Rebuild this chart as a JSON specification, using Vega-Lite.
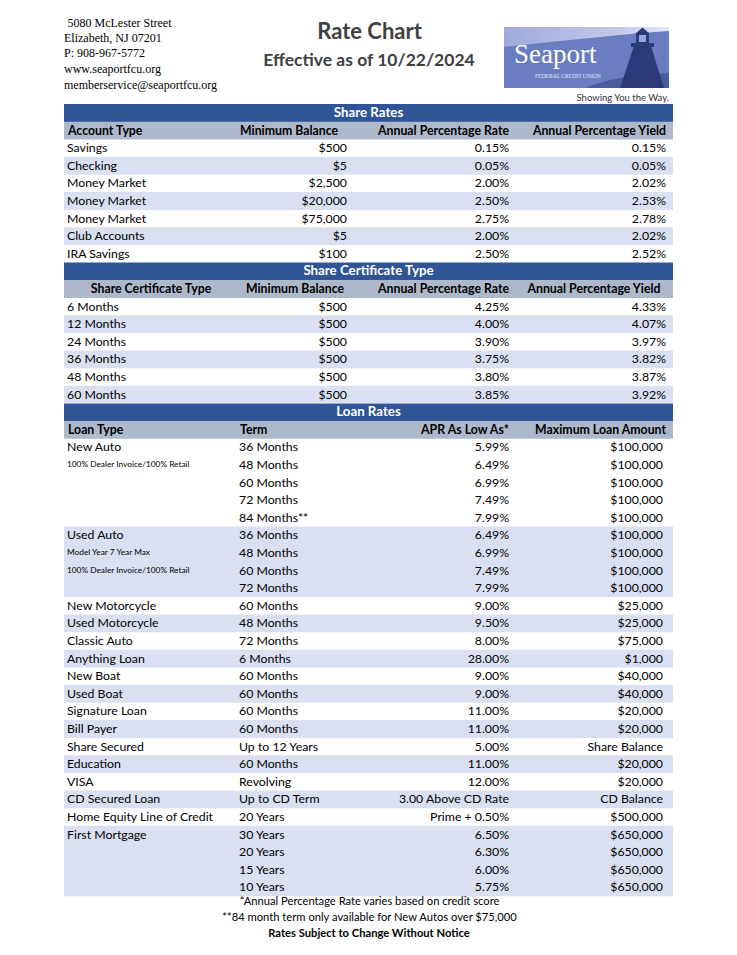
{
  "$schema": "https://vega.github.io/schema/vega-lite/v6.json",
  "width": 737,
  "height": 955,
  "padding": 0,
  "autosize": {"type": "fit", "contains": "padding"},
  "background": "white",
  "config": {"view": {"stroke": null}, "axis": {"disable": true}, "text": {"font": "Lato", "fontSize": 12.3, "baseline": "middle", "color": "#000000"}},
  "datasets": {
    "bands": [
      {"r": 0, "k": "section"}, {"r": 9, "k": "section"}, {"r": 17, "k": "section"},
      {"r": 1, "k": "columns"}, {"r": 10, "k": "columns"}, {"r": 18, "k": "columns"},
      {"r": 3, "k": "alt"}, {"r": 5, "k": "alt"}, {"r": 7, "k": "alt"},
      {"r": 12, "k": "alt"}, {"r": 14, "k": "alt"}, {"r": 16, "k": "alt"},
      {"r": 24, "k": "alt"}, {"r": 25, "k": "alt"}, {"r": 26, "k": "alt"}, {"r": 27, "k": "alt"},
      {"r": 29, "k": "alt"}, {"r": 31, "k": "alt"}, {"r": 33, "k": "alt"}, {"r": 35, "k": "alt"},
      {"r": 37, "k": "alt"}, {"r": 39, "k": "alt"},
      {"r": 41, "k": "alt"}, {"r": 42, "k": "alt"}, {"r": 43, "k": "alt"}, {"r": 44, "k": "alt"}
    ],
    "sections": [
      {"r": 0, "t": "Share Rates"},
      {"r": 9, "t": "Share Certificate Type"},
      {"r": 17, "t": "Loan Rates"}
    ],
    "headers": [
      {"r": 1, "a": "Account Type", "b": "Minimum Balance", "c": "Annual Percentage Rate", "d": "Annual Percentage Yield"},
      {"r": 10, "a": "Share Certificate Type", "b": "Minimum Balance", "c": "Annual Percentage Rate", "d": "Annual Percentage Yield"},
      {"r": 18, "a": "Loan Type", "b": "Term", "c": "APR As Low As*", "d": "Maximum Loan Amount"}
    ],
    "body": [
      {"r": 2, "a": "Savings", "b": "$500", "c": "0.15%", "d": "0.15%"},
      {"r": 3, "a": "Checking", "b": "$5", "c": "0.05%", "d": "0.05%"},
      {"r": 4, "a": "Money Market", "b": "$2,500", "c": "2.00%", "d": "2.02%"},
      {"r": 5, "a": "Money Market", "b": "$20,000", "c": "2.50%", "d": "2.53%"},
      {"r": 6, "a": "Money Market", "b": "$75,000", "c": "2.75%", "d": "2.78%"},
      {"r": 7, "a": "Club Accounts", "b": "$5", "c": "2.00%", "d": "2.02%"},
      {"r": 8, "a": "IRA Savings", "b": "$100", "c": "2.50%", "d": "2.52%"},
      {"r": 11, "a": "6 Months", "b": "$500", "c": "4.25%", "d": "4.33%"},
      {"r": 12, "a": "12 Months", "b": "$500", "c": "4.00%", "d": "4.07%"},
      {"r": 13, "a": "24 Months", "b": "$500", "c": "3.90%", "d": "3.97%"},
      {"r": 14, "a": "36 Months", "b": "$500", "c": "3.75%", "d": "3.82%"},
      {"r": 15, "a": "48 Months", "b": "$500", "c": "3.80%", "d": "3.87%"},
      {"r": 16, "a": "60 Months", "b": "$500", "c": "3.85%", "d": "3.92%"},
      {"r": 19, "a": "New Auto", "b": "36 Months", "c": "5.99%", "d": "$100,000"},
      {"r": 20, "n": "100% Dealer Invoice/100% Retail", "b": "48 Months", "c": "6.49%", "d": "$100,000"},
      {"r": 21, "b": "60 Months", "c": "6.99%", "d": "$100,000"},
      {"r": 22, "b": "72 Months", "c": "7.49%", "d": "$100,000"},
      {"r": 23, "b": "84 Months**", "c": "7.99%", "d": "$100,000"},
      {"r": 24, "a": "Used Auto", "b": "36 Months", "c": "6.49%", "d": "$100,000"},
      {"r": 25, "n": "Model Year 7 Year Max", "b": "48 Months", "c": "6.99%", "d": "$100,000"},
      {"r": 26, "n": "100% Dealer Invoice/100% Retail", "b": "60 Months", "c": "7.49%", "d": "$100,000"},
      {"r": 27, "b": "72 Months", "c": "7.99%", "d": "$100,000"},
      {"r": 28, "a": "New Motorcycle", "b": "60 Months", "c": "9.00%", "d": "$25,000"},
      {"r": 29, "a": "Used Motorcycle", "b": "48 Months", "c": "9.50%", "d": "$25,000"},
      {"r": 30, "a": "Classic Auto", "b": "72 Months", "c": "8.00%", "d": "$75,000"},
      {"r": 31, "a": "Anything Loan", "b": "6 Months", "c": "28.00%", "d": "$1,000"},
      {"r": 32, "a": "New Boat", "b": "60 Months", "c": "9.00%", "d": "$40,000"},
      {"r": 33, "a": "Used Boat", "b": "60 Months", "c": "9.00%", "d": "$40,000"},
      {"r": 34, "a": "Signature Loan", "b": "60 Months", "c": "11.00%", "d": "$20,000"},
      {"r": 35, "a": "Bill Payer", "b": "60 Months", "c": "11.00%", "d": "$20,000"},
      {"r": 36, "a": "Share Secured", "b": "Up to 12 Years", "c": "5.00%", "d": "Share Balance"},
      {"r": 37, "a": "Education", "b": "60 Months", "c": "11.00%", "d": "$20,000"},
      {"r": 38, "a": "VISA", "b": "Revolving", "c": "12.00%", "d": "$20,000"},
      {"r": 39, "a": "CD Secured Loan", "b": "Up to CD Term", "c": "3.00 Above CD Rate", "d": "CD Balance"},
      {"r": 40, "a": "Home Equity Line of Credit", "b": "20 Years", "c": "Prime + 0.50%", "d": "$500,000"},
      {"r": 41, "a": "First Mortgage", "b": "30 Years", "c": "6.50%", "d": "$650,000"},
      {"r": 42, "b": "20 Years", "c": "6.30%", "d": "$650,000"},
      {"r": 43, "b": "15 Years", "c": "6.00%", "d": "$650,000"},
      {"r": 44, "b": "10 Years", "c": "5.75%", "d": "$650,000"}
    ],
    "address": [
      {"r": -4.858, "t": "5080 McLester Street"},
      {"r": -4.006, "t": "Elizabeth, NJ 07201"},
      {"r": -3.182, "t": "P: 908-967-5772"},
      {"r": -2.273, "t": "www.seaportfcu.org"},
      {"r": -1.364, "t": "memberservice@seaportfcu.org"}
    ],
    "titles": [
      {"r": -4.205, "t": "Rate Chart", "s": "title"},
      {"r": -2.67, "t": "Effective as of 10/22/2024", "s": "subtitle"}
    ],
    "notes": [
      {"r": 44.82, "t": "*Annual Percentage Rate varies based on credit score", "s": "note"},
      {"r": 45.74, "t": "**84 month term only available for New Autos over $75,000", "s": "note"},
      {"r": 46.66, "t": "Rates Subject to Change Without Notice", "s": "strong"}
    ],
    "logoRects": [
      {"part": "box", "x": 504, "x2": 669, "r": -4.886, "r2": -1.42},
      {"part": "gallery", "x": 631, "x2": 654, "r": -3.977, "r2": -3.75},
      {"part": "lantern", "x": 636, "x2": 649, "r": -4.489, "r2": -3.977},
      {"part": "window", "x": 639, "x2": 646, "r": -4.432, "r2": -4.034}
    ],
    "logoAreas": [
      {"part": "sky", "x": 504, "r": -4.886, "r2": -3.75},
      {"part": "sky", "x": 550, "r": -4.886, "r2": -4.034},
      {"part": "sky", "x": 600, "r": -4.886, "r2": -4.318},
      {"part": "sky", "x": 640, "r": -4.886, "r2": -4.545},
      {"part": "sky", "x": 669, "r": -4.886, "r2": -4.659},
      {"part": "rock", "x": 585, "r": -1.42, "r2": -1.42},
      {"part": "rock", "x": 610, "r": -1.875, "r2": -1.42},
      {"part": "rock", "x": 635, "r": -2.102, "r2": -1.42},
      {"part": "rock", "x": 669, "r": -2.273, "r2": -1.42},
      {"part": "tower", "x": 620, "r": -1.42, "r2": -1.42},
      {"part": "tower", "x": 634, "r": -3.807, "r2": -1.42},
      {"part": "tower", "x": 651, "r": -3.807, "r2": -1.42},
      {"part": "tower", "x": 664, "r": -1.42, "r2": -1.42},
      {"part": "dome", "x": 635, "r": -4.489, "r2": -4.489},
      {"part": "dome", "x": 642.5, "r": -4.858, "r2": -4.489},
      {"part": "dome", "x": 650, "r": -4.489, "r2": -4.489}
    ],
    "logoText": [
      {"r": -2.824, "t": "Seaport", "s": "name"},
      {"r": -1.972, "t": "FEDERAL CREDIT UNION", "s": "sub"},
      {"r": -0.71, "t": "Showing You the Way.", "s": "tag"}
    ]
  },
  "layer": [
    {
      "data": {"name": "bands"},
      "mark": {"type": "rule", "strokeWidth": 17.8, "strokeCap": "butt"},
      "encoding": {
        "x": {"datum": 64, "type": "quantitative", "scale": {"domain": [0, 737], "nice": false, "zero": false}, "axis": null},
        "x2": {"datum": 673},
        "y": {"field": "r", "type": "quantitative", "scale": {"domain": [-6.42045, 47.84091], "reverse": true, "nice": false, "zero": false}, "axis": null},
        "color": {"field": "k", "type": "nominal", "scale": {"domain": ["section", "columns", "alt"], "range": ["#2F5597", "#ADB9CA", "#DAE0F2"]}, "legend": null}
      }
    },
    {
      "data": {"name": "logoRects"},
      "transform": [{"filter": "datum.part == 'box'"}],
      "mark": {"type": "rect", "color": "#6b7dc1"},
      "encoding": {
        "x": {"field": "x", "type": "quantitative", "scale": {"domain": [0, 737], "nice": false, "zero": false}},
        "x2": {"field": "x2"},
        "y": {"field": "r", "type": "quantitative", "scale": {"domain": [-6.42045, 47.84091], "reverse": true, "nice": false, "zero": false}},
        "y2": {"field": "r2"}
      }
    },
    {
      "data": {"name": "logoAreas"},
      "transform": [{"filter": "datum.part == 'sky'"}],
      "mark": {"type": "area", "interpolate": "monotone", "color": {"gradient": "linear", "x1": 0, "y1": 0, "x2": 1, "y2": 0, "stops": [{"offset": 0, "color": "#9ea9da"}, {"offset": 0.7, "color": "#c3caeb"}, {"offset": 1, "color": "#e4e7f6"}]}},
      "encoding": {
        "x": {"field": "x", "type": "quantitative"},
        "y": {"field": "r", "type": "quantitative"},
        "y2": {"field": "r2"}
      }
    },
    {
      "data": {"name": "logoAreas"},
      "transform": [{"filter": "datum.part == 'rock'"}],
      "mark": {"type": "area", "interpolate": "monotone", "color": "#4a5ca0"},
      "encoding": {
        "x": {"field": "x", "type": "quantitative"},
        "y": {"field": "r", "type": "quantitative"},
        "y2": {"field": "r2"}
      }
    },
    {
      "data": {"name": "logoAreas"},
      "transform": [{"filter": "datum.part == 'tower'"}],
      "mark": {"type": "area", "interpolate": "linear", "color": "#2b3b7a"},
      "encoding": {
        "x": {"field": "x", "type": "quantitative"},
        "y": {"field": "r", "type": "quantitative"},
        "y2": {"field": "r2"}
      }
    },
    {
      "data": {"name": "logoAreas"},
      "transform": [{"filter": "datum.part == 'dome'"}],
      "mark": {"type": "area", "interpolate": "linear", "color": "#2b3b7a"},
      "encoding": {
        "x": {"field": "x", "type": "quantitative"},
        "y": {"field": "r", "type": "quantitative"},
        "y2": {"field": "r2"}
      }
    },
    {
      "data": {"name": "logoRects"},
      "transform": [{"filter": "datum.part == 'gallery' || datum.part == 'lantern'"}],
      "mark": {"type": "rect", "color": "#2b3b7a"},
      "encoding": {
        "x": {"field": "x", "type": "quantitative"},
        "x2": {"field": "x2"},
        "y": {"field": "r", "type": "quantitative"},
        "y2": {"field": "r2"}
      }
    },
    {
      "data": {"name": "logoRects"},
      "transform": [{"filter": "datum.part == 'window'"}],
      "mark": {"type": "rect", "color": "#9aa5d8"},
      "encoding": {
        "x": {"field": "x", "type": "quantitative"},
        "x2": {"field": "x2"},
        "y": {"field": "r", "type": "quantitative"},
        "y2": {"field": "r2"}
      }
    },
    {
      "data": {"name": "logoText"},
      "transform": [{"filter": "datum.s == 'name'"}],
      "mark": {"type": "text", "font": "Liberation Serif", "fontSize": 27, "align": "left", "baseline": "alphabetic", "color": "white"},
      "encoding": {"x": {"datum": 514, "type": "quantitative"}, "y": {"field": "r", "type": "quantitative"}, "text": {"field": "t"}}
    },
    {
      "data": {"name": "logoText"},
      "transform": [{"filter": "datum.s == 'sub'"}],
      "mark": {"type": "text", "font": "Liberation Serif", "fontSize": 5.6, "align": "left", "baseline": "alphabetic", "color": "#e3e7f7"},
      "encoding": {"x": {"datum": 535, "type": "quantitative"}, "y": {"field": "r", "type": "quantitative"}, "text": {"field": "t"}}
    },
    {
      "data": {"name": "logoText"},
      "transform": [{"filter": "datum.s == 'tag'"}],
      "mark": {"type": "text", "font": "Lato", "fontSize": 9.5, "align": "right", "baseline": "alphabetic", "color": "#333333"},
      "encoding": {"x": {"datum": 669, "type": "quantitative"}, "y": {"field": "r", "type": "quantitative"}, "text": {"field": "t"}}
    },
    {
      "data": {"name": "address"},
      "transform": [{"filter": "datum.r < -4.5"}],
      "mark": {"type": "text", "font": "Liberation Serif", "fontSize": 12, "align": "left", "baseline": "alphabetic"},
      "encoding": {"x": {"datum": 67.5, "type": "quantitative"}, "y": {"field": "r", "type": "quantitative"}, "text": {"field": "t"}}
    },
    {
      "data": {"name": "address"},
      "transform": [{"filter": "datum.r > -4.5"}],
      "mark": {"type": "text", "font": "Liberation Serif", "fontSize": 12, "align": "left", "baseline": "alphabetic"},
      "encoding": {"x": {"datum": 64, "type": "quantitative"}, "y": {"field": "r", "type": "quantitative"}, "text": {"field": "t"}}
    },
    {
      "data": {"name": "titles"},
      "transform": [{"filter": "datum.s == 'title'"}],
      "mark": {"type": "text", "fontSize": 22, "fontWeight": "bold", "align": "center", "baseline": "alphabetic", "color": "#404040"},
      "encoding": {"x": {"datum": 369.5, "type": "quantitative"}, "y": {"field": "r", "type": "quantitative"}, "text": {"field": "t"}}
    },
    {
      "data": {"name": "titles"},
      "transform": [{"filter": "datum.s == 'subtitle'"}],
      "mark": {"type": "text", "fontSize": 17.5, "fontWeight": "bold", "align": "center", "baseline": "alphabetic", "color": "#404040"},
      "encoding": {"x": {"datum": 369, "type": "quantitative"}, "y": {"field": "r", "type": "quantitative"}, "text": {"field": "t"}}
    },
    {
      "data": {"name": "sections"},
      "mark": {"type": "text", "fontSize": 13.3, "fontWeight": "bold", "align": "center", "color": "white"},
      "encoding": {"x": {"datum": 368.5, "type": "quantitative"}, "y": {"field": "r", "type": "quantitative"}, "text": {"field": "t"}}
    },
    {
      "data": {"name": "headers"},
      "transform": [{"filter": "datum.r != 10"}],
      "mark": {"type": "text", "fontWeight": "bold", "align": "left"},
      "encoding": {"x": {"datum": 68, "type": "quantitative"}, "y": {"field": "r", "type": "quantitative"}, "text": {"field": "a"}}
    },
    {
      "data": {"name": "headers"},
      "transform": [{"filter": "datum.r != 10"}],
      "mark": {"type": "text", "fontWeight": "bold", "align": "left"},
      "encoding": {"x": {"datum": 240, "type": "quantitative"}, "y": {"field": "r", "type": "quantitative"}, "text": {"field": "b"}}
    },
    {
      "data": {"name": "headers"},
      "mark": {"type": "text", "fontWeight": "bold", "align": "right"},
      "encoding": {"x": {"datum": 509, "type": "quantitative"}, "y": {"field": "r", "type": "quantitative"}, "text": {"field": "c"}}
    },
    {
      "data": {"name": "headers"},
      "transform": [{"filter": "datum.r != 10"}],
      "mark": {"type": "text", "fontWeight": "bold", "align": "right"},
      "encoding": {"x": {"datum": 666, "type": "quantitative"}, "y": {"field": "r", "type": "quantitative"}, "text": {"field": "d"}}
    },
    {
      "data": {"name": "headers"},
      "transform": [{"filter": "datum.r == 10"}],
      "mark": {"type": "text", "fontWeight": "bold", "align": "center"},
      "encoding": {"x": {"datum": 151, "type": "quantitative"}, "y": {"field": "r", "type": "quantitative"}, "text": {"field": "a"}}
    },
    {
      "data": {"name": "headers"},
      "transform": [{"filter": "datum.r == 10"}],
      "mark": {"type": "text", "fontWeight": "bold", "align": "center"},
      "encoding": {"x": {"datum": 295, "type": "quantitative"}, "y": {"field": "r", "type": "quantitative"}, "text": {"field": "b"}}
    },
    {
      "data": {"name": "headers"},
      "transform": [{"filter": "datum.r == 10"}],
      "mark": {"type": "text", "fontWeight": "bold", "align": "center"},
      "encoding": {"x": {"datum": 594, "type": "quantitative"}, "y": {"field": "r", "type": "quantitative"}, "text": {"field": "d"}}
    },
    {
      "data": {"name": "body"},
      "transform": [{"filter": "datum.a"}],
      "mark": {"type": "text", "align": "left"},
      "encoding": {"x": {"datum": 67, "type": "quantitative"}, "y": {"field": "r", "type": "quantitative"}, "text": {"field": "a"}}
    },
    {
      "data": {"name": "body"},
      "transform": [{"filter": "datum.n"}],
      "mark": {"type": "text", "align": "left", "fontSize": 8.3},
      "encoding": {"x": {"datum": 67, "type": "quantitative"}, "y": {"field": "r", "type": "quantitative"}, "text": {"field": "n"}}
    },
    {
      "data": {"name": "body"},
      "transform": [{"filter": "datum.r < 17"}],
      "mark": {"type": "text", "align": "right"},
      "encoding": {"x": {"datum": 347, "type": "quantitative"}, "y": {"field": "r", "type": "quantitative"}, "text": {"field": "b"}}
    },
    {
      "data": {"name": "body"},
      "transform": [{"filter": "datum.r > 17"}],
      "mark": {"type": "text", "align": "left"},
      "encoding": {"x": {"datum": 239, "type": "quantitative"}, "y": {"field": "r", "type": "quantitative"}, "text": {"field": "b"}}
    },
    {
      "data": {"name": "body"},
      "mark": {"type": "text", "align": "right"},
      "encoding": {"x": {"datum": 509, "type": "quantitative"}, "y": {"field": "r", "type": "quantitative"}, "text": {"field": "c"}}
    },
    {
      "data": {"name": "body"},
      "transform": [{"filter": "datum.r < 17"}],
      "mark": {"type": "text", "align": "right"},
      "encoding": {"x": {"datum": 666, "type": "quantitative"}, "y": {"field": "r", "type": "quantitative"}, "text": {"field": "d"}}
    },
    {
      "data": {"name": "body"},
      "transform": [{"filter": "datum.r > 17"}],
      "mark": {"type": "text", "align": "right"},
      "encoding": {"x": {"datum": 663, "type": "quantitative"}, "y": {"field": "r", "type": "quantitative"}, "text": {"field": "d"}}
    },
    {
      "data": {"name": "notes"},
      "transform": [{"filter": "datum.s == 'note'"}],
      "mark": {"type": "text", "align": "center", "fontSize": 11.2},
      "encoding": {"x": {"datum": 369.5, "type": "quantitative"}, "y": {"field": "r", "type": "quantitative"}, "text": {"field": "t"}}
    },
    {
      "data": {"name": "notes"},
      "transform": [{"filter": "datum.s == 'strong'"}],
      "mark": {"type": "text", "align": "center", "fontWeight": "bold", "fontSize": 11.2},
      "encoding": {"x": {"datum": 369, "type": "quantitative"}, "y": {"field": "r", "type": "quantitative"}, "text": {"field": "t"}}
    }
  ]
}
